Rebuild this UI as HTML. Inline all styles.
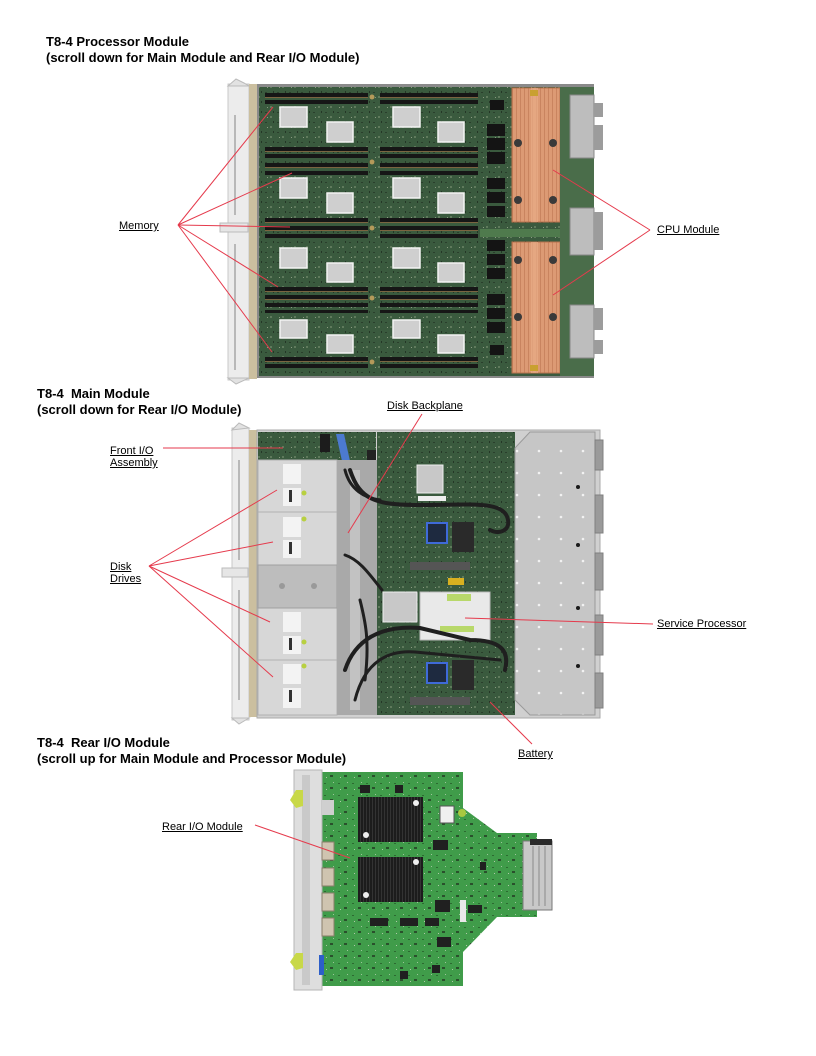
<!DOCTYPE html>
<html><head><meta charset="utf-8">
<style>
html,body{margin:0;padding:0;background:#fff;}
body{width:816px;height:1056px;position:relative;overflow:hidden;font-family:"Liberation Sans",Arial,sans-serif;}
.t{position:absolute;font-weight:bold;font-size:13px;line-height:15.5px;color:#000;white-space:nowrap;}
.l{position:absolute;font-size:11px;line-height:12px;color:#000;text-decoration:underline;white-space:nowrap;}
svg{position:absolute;left:0;top:0;}
</style></head><body>
<svg width="816" height="1056" viewBox="0 0 816 1056">
<defs>
<pattern id="pcb" width="12" height="10" patternUnits="userSpaceOnUse">
<rect width="12" height="10" fill="#3a5a3e"/>
<rect x="1" y="2" width="2" height="1" fill="#2a3f2c"/>
<rect x="6" y="6" width="2" height="2" fill="#5f7a5c"/>
<rect x="9" y="1" width="1" height="2" fill="#243626"/>
<rect x="3" y="7" width="1" height="1" fill="#8a9a80"/>
</pattern>
<pattern id="pcb2" width="14" height="12" patternUnits="userSpaceOnUse">
<rect width="14" height="12" fill="#409c4a"/>
<rect x="2" y="3" width="2" height="1" fill="#2c6a31"/>
<rect x="8" y="7" width="3" height="2" fill="#2a502c"/>
<rect x="11" y="2" width="1" height="1" fill="#9cc59a"/>
<rect x="4" y="9" width="1" height="1" fill="#b0c8a8"/>
</pattern>
<pattern id="fins" width="3" height="4" patternUnits="userSpaceOnUse">
<rect width="3" height="4" fill="#1c1c1c"/>
<rect width="1" height="4" fill="#333"/>
</pattern>
<pattern id="cu" width="4" height="6" patternUnits="userSpaceOnUse">
<rect width="4" height="6" fill="#dc9a74"/>
<rect width="1" height="6" fill="#c9845f"/>
</pattern>
<pattern id="plate" width="22" height="22" patternUnits="userSpaceOnUse">
<rect width="22" height="22" fill="#c6c6c6"/>
<circle cx="11" cy="11" r="1.3" fill="#f2f2f2"/>
</pattern>
</defs>

<!-- ================= PROCESSOR MODULE ================= -->
<rect x="228" y="84" width="21" height="296" fill="#ececec" stroke="#c9c9c9"/>
<path d="M228 86 L236 79 L244 83 L249 86 Z" fill="#e2e2e2" stroke="#bbb"/>
<path d="M228 378 L236 384 L249 378 Z" fill="#e2e2e2" stroke="#bbb"/>
<line x1="235" y1="115" x2="235" y2="215" stroke="#b8b8b8" stroke-width="2"/>
<line x1="235" y1="244" x2="235" y2="370" stroke="#b8b8b8" stroke-width="2"/>
<rect x="220" y="223" width="28" height="9" fill="#e6e6e6" stroke="#bbb"/>
<rect x="249" y="84" width="8" height="295" fill="#cbbf9f"/>
<rect x="257" y="84" width="337" height="294" fill="#8a8a8a"/>
<rect x="259" y="87" width="302" height="289" fill="url(#pcb)"/>
<!-- dimm slots -->
<g fill="#161616">
<rect x="265" y="93" width="103" height="4"/><rect x="380" y="93" width="98" height="4"/>
<rect x="265" y="100" width="103" height="4"/><rect x="380" y="100" width="98" height="4"/>
<rect x="265" y="147" width="103" height="4"/><rect x="380" y="147" width="98" height="4"/>
<rect x="265" y="154" width="103" height="4"/><rect x="380" y="154" width="98" height="4"/>
<rect x="265" y="163" width="103" height="4"/><rect x="380" y="163" width="98" height="4"/>
<rect x="265" y="171" width="103" height="4"/><rect x="380" y="171" width="98" height="4"/>
<rect x="265" y="218" width="103" height="4"/><rect x="380" y="218" width="98" height="4"/>
<rect x="265" y="226" width="103" height="4"/><rect x="380" y="226" width="98" height="4"/>
<rect x="265" y="234" width="103" height="4"/><rect x="380" y="234" width="98" height="4"/>
<rect x="265" y="287" width="103" height="4"/><rect x="380" y="287" width="98" height="4"/>
<rect x="265" y="295" width="103" height="4"/><rect x="380" y="295" width="98" height="4"/>
<rect x="265" y="303" width="103" height="4"/><rect x="380" y="303" width="98" height="4"/>
<rect x="265" y="310" width="103" height="3"/><rect x="380" y="310" width="98" height="3"/>
<rect x="265" y="357" width="103" height="4"/><rect x="380" y="357" width="98" height="4"/>
<rect x="265" y="364" width="103" height="4"/><rect x="380" y="364" width="98" height="4"/>
</g>
<g fill="#7a6440">
<rect x="265" y="97" width="103" height="1"/><rect x="380" y="97" width="98" height="1"/>
<rect x="265" y="151" width="103" height="1"/><rect x="380" y="151" width="98" height="1"/>
<rect x="265" y="167" width="103" height="1"/><rect x="380" y="167" width="98" height="1"/>
<rect x="265" y="222" width="103" height="1"/><rect x="380" y="222" width="98" height="1"/>
<rect x="265" y="230" width="103" height="1"/><rect x="380" y="230" width="98" height="1"/>
<rect x="265" y="291" width="103" height="1"/><rect x="380" y="291" width="98" height="1"/>
<rect x="265" y="299" width="103" height="1"/><rect x="380" y="299" width="98" height="1"/>
<rect x="265" y="361" width="103" height="1"/><rect x="380" y="361" width="98" height="1"/>
</g>
<!-- silver heat sinks -->
<g fill="#cfcfcf" stroke="#f4f4f4" stroke-width="1.5">
<rect x="280" y="107" width="27" height="20"/><rect x="327" y="122" width="26" height="20"/>
<rect x="393" y="107" width="27" height="20"/><rect x="438" y="122" width="26" height="20"/>
<rect x="280" y="178" width="27" height="20"/><rect x="327" y="193" width="26" height="20"/>
<rect x="393" y="178" width="27" height="20"/><rect x="438" y="193" width="26" height="20"/>
<rect x="280" y="248" width="27" height="20"/><rect x="327" y="263" width="26" height="19"/>
<rect x="393" y="248" width="27" height="20"/><rect x="438" y="263" width="26" height="19"/>
<rect x="280" y="320" width="27" height="18"/><rect x="327" y="335" width="26" height="18"/>
<rect x="393" y="320" width="27" height="18"/><rect x="438" y="335" width="26" height="18"/>
</g>
<!-- standoffs mid column -->
<g fill="#b59a5a">
<circle cx="372" cy="97" r="2.5"/><circle cx="372" cy="162" r="2.5"/><circle cx="372" cy="228" r="2.5"/><circle cx="372" cy="298" r="2.5"/><circle cx="372" cy="362" r="2.5"/>
</g>
<!-- VRM column -->
<g fill="#141414">
<rect x="487" y="124" width="18" height="12"/><rect x="487" y="138" width="18" height="12"/><rect x="487" y="152" width="18" height="12"/>
<rect x="487" y="178" width="18" height="11"/><rect x="487" y="192" width="18" height="11"/><rect x="487" y="206" width="18" height="11"/>
<rect x="487" y="240" width="18" height="11"/><rect x="487" y="254" width="18" height="11"/><rect x="487" y="268" width="18" height="11"/>
<rect x="487" y="294" width="18" height="11"/><rect x="487" y="308" width="18" height="11"/><rect x="487" y="322" width="18" height="11"/>
<rect x="490" y="100" width="14" height="10"/><rect x="490" y="345" width="14" height="10"/>
</g>
<rect x="480" y="229" width="80" height="8" fill="#4f7a4d"/>
<!-- copper -->
<rect x="512" y="88" width="48" height="134" fill="url(#cu)" stroke="#b8714e"/>
<rect x="512" y="242" width="48" height="131" fill="url(#cu)" stroke="#b8714e"/>
<rect x="531" y="88" width="7" height="134" fill="#e8ad88" opacity="0.7"/>
<rect x="531" y="242" width="7" height="131" fill="#e8ad88" opacity="0.7"/>
<g fill="#3a3a3a">
<circle cx="518" cy="143" r="4"/><circle cx="553" cy="143" r="4"/><circle cx="518" cy="200" r="4"/><circle cx="553" cy="200" r="4"/>
<circle cx="518" cy="260" r="4"/><circle cx="553" cy="260" r="4"/><circle cx="518" cy="317" r="4"/><circle cx="553" cy="317" r="4"/>
</g>
<rect x="530" y="90" width="8" height="6" fill="#c9a030"/><rect x="530" y="365" width="8" height="6" fill="#c9a030"/>
<!-- right side -->
<rect x="560" y="87" width="34" height="289" fill="#4a6d4a"/>
<g fill="#bdbdbd" stroke="#888">
<rect x="570" y="95" width="24" height="63"/>
<rect x="570" y="208" width="24" height="47"/>
<rect x="570" y="305" width="24" height="53"/>
</g>
<g fill="#9c9c9c">
<rect x="594" y="103" width="9" height="14"/><rect x="594" y="125" width="9" height="25"/>
<rect x="594" y="212" width="9" height="38"/>
<rect x="594" y="308" width="9" height="22"/><rect x="594" y="340" width="9" height="14"/>
</g>

<!-- ================= MAIN MODULE ================= -->
<rect x="232" y="428" width="17" height="292" fill="#ececec" stroke="#c9c9c9"/>
<path d="M232 430 L239 423 L249 428 Z" fill="#e2e2e2" stroke="#bbb"/>
<path d="M232 718 L239 724 L249 718 Z" fill="#e2e2e2" stroke="#bbb"/>
<line x1="239" y1="460" x2="239" y2="560" stroke="#b8b8b8" stroke-width="2"/>
<line x1="239" y1="590" x2="239" y2="700" stroke="#b8b8b8" stroke-width="2"/>
<rect x="222" y="568" width="26" height="9" fill="#e6e6e6" stroke="#bbb"/>
<rect x="249" y="430" width="8" height="287" fill="#cbbf9f"/>
<rect x="257" y="430" width="343" height="288" fill="#d0d0d0" stroke="#aaa"/>
<!-- front IO strip -->
<rect x="258" y="432" width="118" height="28" fill="url(#pcb)"/>
<rect x="320" y="434" width="10" height="18" fill="#1c1c1c"/>
<path d="M336 434 L344 434 L352 470 L344 470 Z" fill="#4c7ad0"/>
<rect x="367" y="450" width="9" height="18" fill="#222"/>
<!-- drives -->
<g fill="#d7d7d7" stroke="#b0b0b0">
<rect x="258" y="460" width="79" height="52"/>
<rect x="258" y="512" width="79" height="53"/>
<rect x="258" y="608" width="79" height="52"/>
<rect x="258" y="660" width="79" height="55"/>
</g>
<g fill="#f3f3f3">
<rect x="283" y="464" width="18" height="20"/><rect x="283" y="488" width="18" height="18"/>
<rect x="283" y="517" width="18" height="20"/><rect x="283" y="540" width="18" height="18"/>
<rect x="283" y="612" width="18" height="20"/><rect x="283" y="636" width="18" height="18"/>
<rect x="283" y="664" width="18" height="20"/><rect x="283" y="688" width="18" height="20"/>
</g>
<g fill="#333"><rect x="289" y="490" width="3" height="12"/><rect x="289" y="542" width="3" height="12"/><rect x="289" y="638" width="3" height="12"/><rect x="289" y="690" width="3" height="12"/></g>
<g fill="#b8d040"><circle cx="304" cy="493" r="2.5"/><circle cx="304" cy="519" r="2.5"/><circle cx="304" cy="642" r="2.5"/><circle cx="304" cy="666" r="2.5"/></g>
<rect x="258" y="565" width="79" height="43" fill="#bdbdbd" stroke="#a0a0a0"/>
<circle cx="282" cy="586" r="3" fill="#999"/><circle cx="314" cy="586" r="3" fill="#999"/>
<!-- middle channel -->
<rect x="337" y="460" width="40" height="255" fill="#a9a9a9"/>
<rect x="350" y="470" width="10" height="240" fill="#c2c2c2"/>
<!-- motherboard -->
<rect x="377" y="432" width="138" height="283" fill="url(#pcb)"/>
<rect x="417" y="465" width="26" height="28" fill="#c8c8c8" stroke="#eee"/>
<rect x="418" y="496" width="28" height="5" fill="#eee"/>
<rect x="427" y="523" width="20" height="20" fill="#1e2a40" stroke="#3f6ad8" stroke-width="2"/>
<rect x="427" y="663" width="20" height="20" fill="#1e2a40" stroke="#3f6ad8" stroke-width="2"/>
<rect x="452" y="522" width="22" height="30" fill="#2a2a2a"/>
<rect x="452" y="660" width="22" height="30" fill="#2a2a2a"/>
<rect x="410" y="562" width="60" height="8" fill="#555"/>
<rect x="410" y="697" width="60" height="8" fill="#555"/>
<rect x="448" y="578" width="16" height="7" fill="#d8b020"/>
<rect x="383" y="592" width="34" height="30" fill="#c8c8c8" stroke="#eee"/>
<rect x="420" y="592" width="70" height="48" fill="#e9e9e9" stroke="#bbb"/>
<rect x="447" y="594" width="24" height="7" fill="#b8d86a"/>
<rect x="440" y="626" width="34" height="6" fill="#b8d86a"/>
<!-- cables -->
<g fill="none" stroke="#1f1f1f" stroke-linecap="round">
<path d="M350 470 C 360 500, 375 505, 420 505 C 470 505, 505 500, 508 520 C 510 530, 500 535, 490 530" stroke-width="4"/>
<path d="M345 470 C 350 490, 365 498, 380 500" stroke-width="3"/>
<path d="M345 670 C 355 640, 380 625, 420 628 L 470 640 C 500 640, 510 650, 505 670" stroke-width="4"/>
<path d="M355 700 C 365 660, 390 650, 415 652 L 500 660" stroke-width="3"/>
<path d="M345 555 C 360 560, 370 575, 382 590" stroke-width="3"/>
<path d="M360 600 C 365 620, 370 640, 365 680" stroke-width="3"/>
</g>
<!-- gray plate -->
<path d="M515 448 L530 432 L595 432 L595 715 L530 715 L515 700 Z" fill="url(#plate)" stroke="#9a9a9a"/>
<g fill="#1a1a1a"><circle cx="578" cy="487" r="2"/><circle cx="578" cy="545" r="2"/><circle cx="578" cy="608" r="2"/><circle cx="578" cy="666" r="2"/></g>
<g fill="#9a9a9a" stroke="#808080">
<rect x="595" y="440" width="8" height="30"/><rect x="595" y="495" width="8" height="38"/>
<rect x="595" y="553" width="8" height="37"/><rect x="595" y="615" width="8" height="40"/>
<rect x="595" y="673" width="8" height="35"/>
</g>

<!-- ================= REAR IO MODULE ================= -->
<path d="M320 772 L463 772 L463 808 L497 833 L537 833 L537 917 L497 917 L463 952 L463 986 L320 986 Z" fill="url(#pcb2)"/>
<rect x="294" y="770" width="28" height="220" fill="#dedede" stroke="#b5b5b5"/>
<rect x="302" y="775" width="8" height="210" fill="#c9c9c9"/>
<path d="M296 790 L290 800 L296 808 L303 806 L303 790 Z" fill="#c8d848"/>
<path d="M296 953 L290 962 L296 970 L303 968 L303 953 Z" fill="#c8d848"/>
<rect x="319" y="955" width="5" height="20" fill="#2d5fc8"/>
<g fill="#cfc4b0" stroke="#8a7e6a">
<rect x="322" y="842" width="12" height="18"/><rect x="322" y="868" width="12" height="18"/>
<rect x="322" y="893" width="12" height="18"/><rect x="322" y="918" width="12" height="18"/>
</g>
<rect x="322" y="800" width="12" height="15" fill="#cfcfcf"/>
<rect x="358" y="797" width="65" height="45" fill="url(#fins)"/>
<rect x="358" y="857" width="65" height="45" fill="url(#fins)"/>
<g fill="#f0f0f0"><circle cx="416" cy="803" r="3"/><circle cx="366" cy="835" r="3"/><circle cx="416" cy="862" r="3"/><circle cx="366" cy="895" r="3"/></g>
<rect x="440" y="806" width="14" height="17" fill="#f0f0f0" stroke="#555"/>
<circle cx="462" cy="813" r="4" fill="#a8c840"/>
<g fill="#202020">
<rect x="433" y="840" width="15" height="10"/><rect x="435" y="900" width="15" height="12"/>
<rect x="370" y="918" width="18" height="8"/><rect x="400" y="918" width="18" height="8"/>
<rect x="425" y="918" width="14" height="8"/><rect x="437" y="937" width="14" height="10"/>
<rect x="468" y="905" width="14" height="8"/><rect x="480" y="862" width="6" height="8"/>
<rect x="400" y="971" width="8" height="8"/><rect x="432" y="965" width="8" height="8"/>
<rect x="395" y="785" width="8" height="8"/><rect x="360" y="785" width="10" height="8"/>
</g>
<rect x="460" y="900" width="6" height="22" fill="#e8e8e8"/>
<rect x="523" y="841" width="29" height="69" fill="#c8c8c8" stroke="#777"/>
<g stroke="#8a8a8a" stroke-width="1"><line x1="533" y1="846" x2="533" y2="906"/><line x1="539" y1="846" x2="539" y2="906"/><line x1="545" y1="846" x2="545" y2="906"/></g>
<rect x="530" y="839" width="22" height="6" fill="#2a2a2a"/>

<!-- ================= RED LEADER LINES ================= -->
<g stroke="#e53a4c" stroke-width="1" fill="none">
<line x1="178" y1="225" x2="273" y2="107"/>
<line x1="178" y1="225" x2="292" y2="173"/>
<line x1="178" y1="225" x2="290" y2="227"/>
<line x1="178" y1="225" x2="278" y2="287"/>
<line x1="178" y1="225" x2="272" y2="352"/>
<line x1="650" y1="230" x2="553" y2="170"/>
<line x1="650" y1="230" x2="553" y2="295"/>
<line x1="163" y1="448" x2="283" y2="448"/>
<line x1="422" y1="414" x2="348" y2="533"/>
<line x1="149" y1="566" x2="277" y2="490"/>
<line x1="149" y1="566" x2="273" y2="542"/>
<line x1="149" y1="566" x2="270" y2="622"/>
<line x1="149" y1="566" x2="273" y2="677"/>
<line x1="465" y1="618" x2="653" y2="624"/>
<line x1="532" y1="744" x2="490" y2="702"/>
<line x1="255" y1="825" x2="350" y2="858"/>
</g>
</svg>

<div class="t" style="left:46px;top:34px">T8-4 Processor Module<br>(scroll down for Main Module and Rear I/O Module)</div>
<div class="t" style="left:37px;top:386px">T8-4&nbsp; Main Module<br>(scroll down for Rear I/O Module)</div>
<div class="t" style="left:37px;top:735px">T8-4&nbsp; Rear I/O Module<br>(scroll up for Main Module and Processor Module)</div>

<div class="l" style="left:119px;top:220px">Memory</div>
<div class="l" style="left:657px;top:224px">CPU Module</div>
<div class="l" style="left:387px;top:400px">Disk Backplane</div>
<div class="l" style="left:110px;top:445px">Front I/O<br>Assembly</div>
<div class="l" style="left:110px;top:561px">Disk<br>Drives</div>
<div class="l" style="left:657px;top:618px">Service Processor</div>
<div class="l" style="left:518px;top:748px">Battery</div>
<div class="l" style="left:162px;top:821px">Rear I/O Module</div>
</body></html>
